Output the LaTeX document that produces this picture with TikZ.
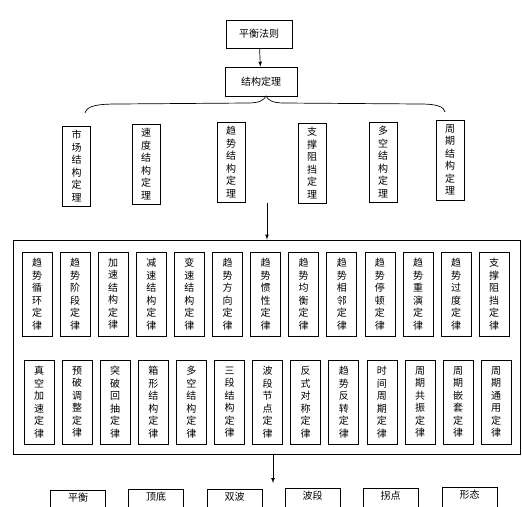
\documentclass[tikz,border=0pt]{standalone}
\usepackage{fontspec}
\newfontfamily\cjk{Noto Sans CJK SC}
\XeTeXlinebreaklocale "zh"
\XeTeXlinebreakskip=0pt plus 1pt
\setlength{\parindent}{0pt}

\tikzset{
  >=latex,
  box/.style={draw, rectangle, line width=0.7pt, font=\cjk\fontsize{10}{12.5}\selectfont},
  theorem/.style={box, text width=10pt, align=center, minimum width=28pt, minimum height=80pt, inner xsep=0pt},
  law/.style={box, text width=10pt, align=center, minimum width=30pt, minimum height=84pt, inner xsep=0pt},
  pattern box/.style={box, anchor=north, minimum width=55pt, text height=8pt, text depth=30pt},
}

\begin{document}
\begin{tikzpicture}[x=1pt, y=-1pt]
\useasboundingbox (0,0) rectangle (522,506);
\clip (0,0) rectangle (522,506);

% principle and structure
\node[box, minimum width=66pt, minimum height=28pt] (top) at (259,34) {平衡法则};
\node[box, minimum width=72pt, minimum height=29pt] (struct) at (261,81.5) {结构定理};
\draw[->, line width=0.7pt] (top) -- (struct);

% brace
\draw[line width=0.7pt] (85,113) .. controls (87,106) and (96,104) .. (118,104) -- (248,103)
  .. controls (260,103) and (264,100) .. (266,96)
  .. controls (268,100) and (272,103) .. (284,103) -- (420,104)
  .. controls (438,104) and (444,107) .. (445,112);

% theorems
\node[theorem] (th1) at (76.5,166) {市场结构定理};
\node[theorem] (th2) at (146,164) {速度结构定理};
\node[theorem] (th3) at (231,162) {趋势结构定理};
\node[theorem] (th4) at (312,163) {支撑阻挡定理};
\node[theorem] (th5) at (383,162) {多空结构定理};
\node[theorem] (th6) at (450,160) {周期结构定理};

% laws
\node[draw, rectangle, line width=0.8pt, minimum width=507pt, minimum height=214pt] (frame) at (266.5,347) {};
\coordinate (a2) at (267,203);
\draw[->, line width=0.7pt] (a2) -- (a2 |- frame.north);

\node[law] (a1) at (37,294) {趋势循环定律};
\node[law] (a2b) at (75.1,294) {趋势阶段定律};
\node[law] (a3) at (113.2,294) {加速结构定律};
\node[law] (a4) at (151.3,294) {减速结构定律};
\node[law] (a5) at (189.4,294) {变速结构定律};
\node[law] (a6) at (227.5,294) {趋势方向定律};
\node[law] (a7) at (265.6,294) {趋势惯性定律};
\node[law] (a8) at (303.7,294) {趋势均衡定律};
\node[law] (a9) at (341.8,294) {趋势相邻定律};
\node[law] (a10) at (379.9,294) {趋势停顿定律};
\node[law] (a11) at (418,294) {趋势重演定律};
\node[law] (a12) at (456.1,294) {趋势过度定律};
\node[law] (a13) at (494.2,294) {支撑阻挡定律};

\node[law] (b1) at (39,402) {真空加速定律};
\node[law] (b2) at (77.1,402) {预破调整定律};
\node[law] (b3) at (115.2,402) {突破回抽定律};
\node[law] (b4) at (153.3,402) {箱形结构定律};
\node[law] (b5) at (191.4,402) {多空结构定律};
\node[law] (b6) at (229.5,402) {三段结构定律};
\node[law] (b7) at (267.6,402) {波段节点定律};
\node[law] (b8) at (305.7,402) {反式对称定律};
\node[law] (b9) at (343.8,402) {趋势反转定律};
\node[law] (b10) at (381.9,402) {时间周期定律};
\node[law] (b11) at (420,402) {周期共振定律};
\node[law] (b12) at (458.1,402) {周期嵌套定律};
\node[law] (b13) at (496.2,402) {周期通用定律};

% patterns
\coordinate (a3c) at (273,483);
\draw[->, line width=0.7pt] (a3c |- frame.south) -- (a3c);
\node[pattern box] (c1) at (78,490) {平衡};
\node[pattern box] (c2) at (156,489) {顶底};
\node[pattern box] (c3) at (234.5,488.5) {双波};
\node[pattern box] (c4) at (312.5,488) {波段};
\node[pattern box] (c5) at (390.5,487.5) {拐点};
\node[pattern box] (c6) at (469.5,487) {形态};
\end{tikzpicture}
\end{document}
